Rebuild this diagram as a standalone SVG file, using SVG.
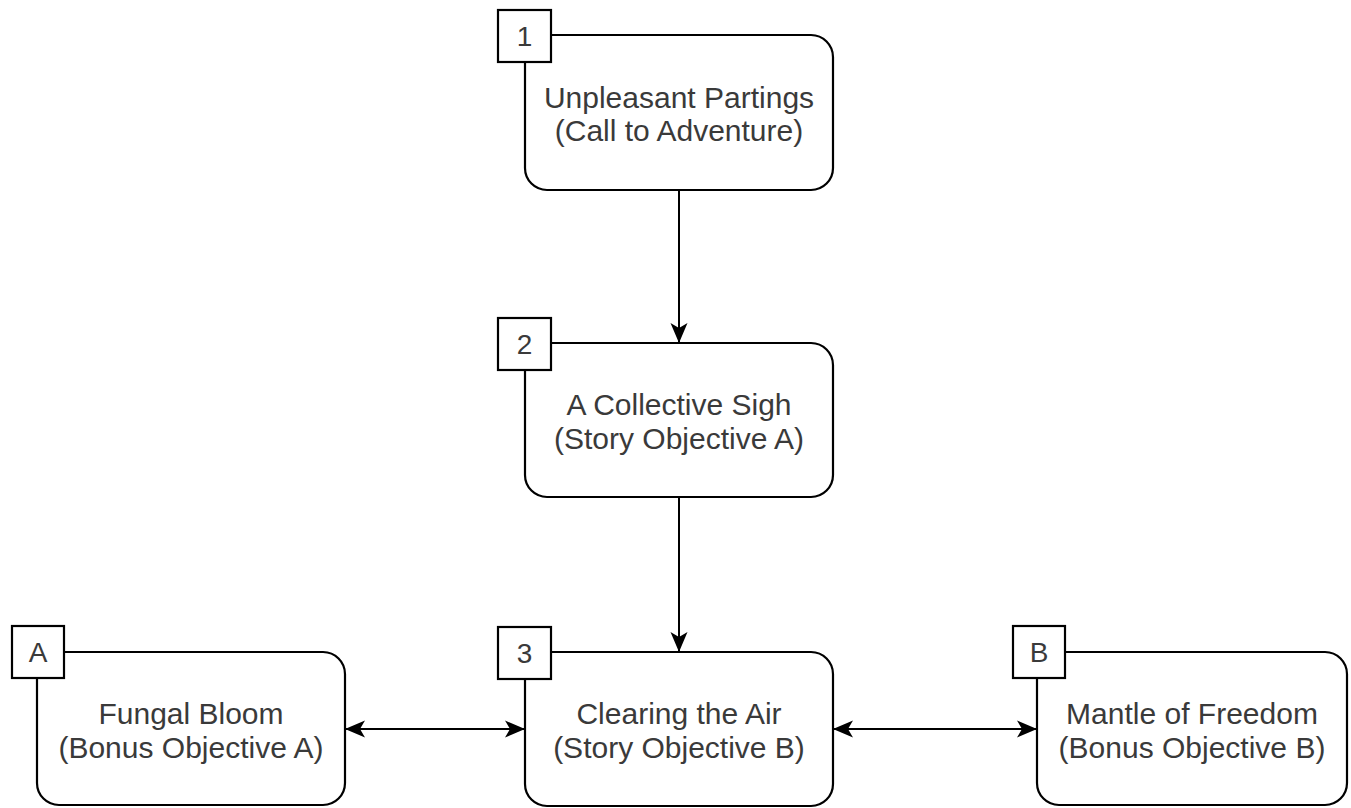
<svg xmlns="http://www.w3.org/2000/svg" width="1351" height="808" viewBox="0 0 1351 808">
<defs>
<style>
.box{fill:#fff;stroke:#000;stroke-width:2.2}
.badge{fill:#fff;stroke:#000;stroke-width:2.2}
.t{font-family:"Liberation Sans",Arial,sans-serif;font-size:30px;fill:#3a3a3a;text-anchor:middle}
.b{font-family:"Liberation Sans",Arial,sans-serif;font-size:28px;fill:#3a3a3a;text-anchor:middle}
.edge{stroke:#000;stroke-width:2;fill:none}
</style>
<marker id="arr" viewBox="0 0 20 20" refX="19" refY="10" markerWidth="20" markerHeight="20" markerUnits="userSpaceOnUse" orient="auto-start-reverse">
<path d="M0,1.5 L20,10 L0,18.5 L5,10 Z" fill="#000"/>
</marker>
</defs>
<g id="edges">
<line class="edge" x1="679" y1="190" x2="679" y2="342" marker-end="url(#arr)"/>
<line class="edge" x1="679" y1="497" x2="679" y2="651" stroke="#444" marker-end="url(#arr)"/>
<line class="edge" x1="346" y1="729" x2="524" y2="729" marker-start="url(#arr)" marker-end="url(#arr)"/>
<line class="edge" x1="834" y1="729" x2="1036" y2="729" marker-start="url(#arr)" marker-end="url(#arr)"/>
</g>
<g id="node1">
<rect class="box" x="525" y="35" width="308" height="155" rx="22"/>
<rect class="badge" x="498" y="10" width="53" height="52"/>
<text class="b" x="524.5" y="46">1</text>
<text class="t" x="679" y="108">Unpleasant Partings</text>
<text class="t" x="679" y="141">(Call to Adventure)</text>
</g>
<g id="node2">
<rect class="box" x="525" y="343" width="308" height="154" rx="22"/>
<rect class="badge" x="498" y="318" width="53" height="52"/>
<text class="b" x="524.5" y="354">2</text>
<text class="t" x="679" y="415">A Collective Sigh</text>
<text class="t" x="679" y="449">(Story Objective A)</text>
</g>
<g id="node3">
<rect class="box" x="525" y="652" width="308" height="154" rx="22"/>
<rect class="badge" x="498" y="627" width="53" height="52"/>
<text class="b" x="524.5" y="663">3</text>
<text class="t" x="679" y="724">Clearing the Air</text>
<text class="t" x="679" y="758">(Story Objective B)</text>
</g>
<g id="nodeA">
<rect class="box" x="37" y="652" width="308" height="153" rx="22"/>
<rect class="badge" x="12" y="626" width="52" height="52"/>
<text class="b" x="38" y="662">A</text>
<text class="t" x="191" y="724">Fungal Bloom</text>
<text class="t" x="191" y="758">(Bonus Objective A)</text>
</g>
<g id="nodeB">
<rect class="box" x="1037" y="652" width="310" height="153" rx="22"/>
<rect class="badge" x="1013" y="626" width="52" height="52"/>
<text class="b" x="1039" y="662">B</text>
<text class="t" x="1192" y="724">Mantle of Freedom</text>
<text class="t" x="1192" y="758">(Bonus Objective B)</text>
</g>
</svg>
